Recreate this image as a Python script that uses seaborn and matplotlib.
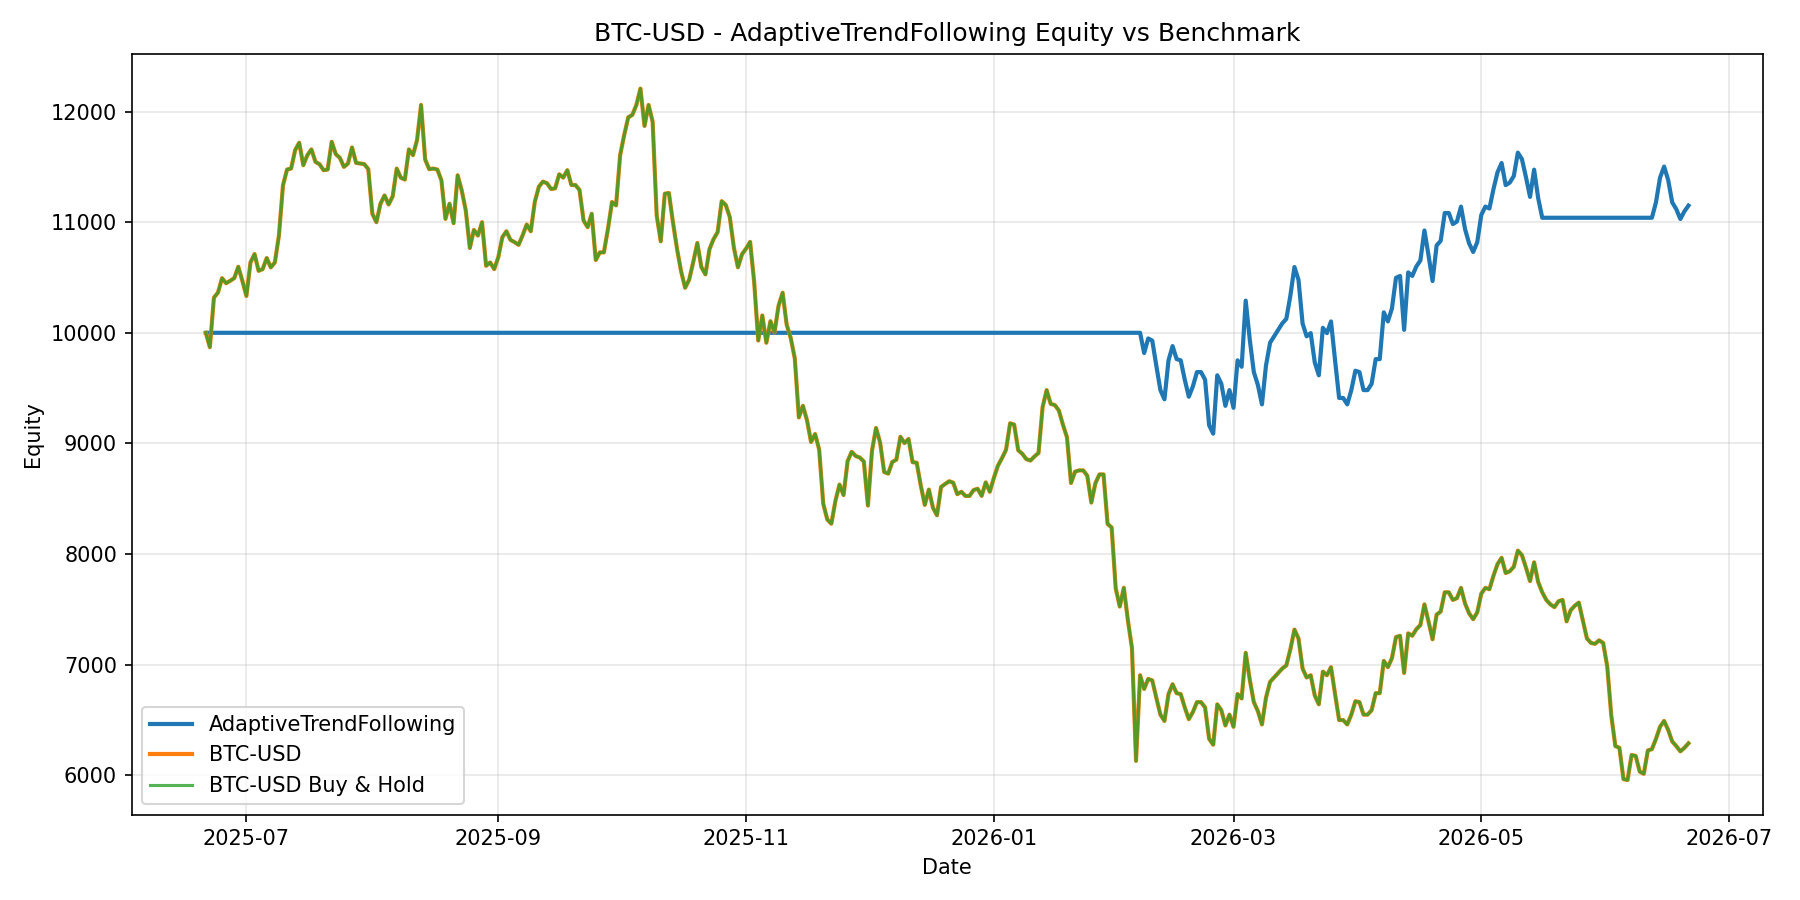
import numpy as np
import pandas as pd
import seaborn as sns
import matplotlib.pyplot as plt

start_date = "2025-06-21"

# BTC-USD buy & hold equity, daily
btc = [
    10000, 9870, 10318, 10364, 10494, 10448, 10470, 10494, 10597, 10470,
    10333, 10636, 10712, 10560, 10576, 10676, 10591, 10636, 10879, 11333,
    11476, 11485, 11652, 11718, 11515, 11606, 11658, 11545, 11524, 11470,
    11476, 11727, 11615, 11582, 11500, 11530, 11676, 11536, 11530, 11525,
    11480, 11076, 11000, 11167, 11242, 11160, 11233, 11485, 11403, 11385,
    11658, 11606, 11742, 12060, 11567, 11479, 11485, 11476, 11379, 11030,
    11167, 10991, 11424, 11288, 11106, 10767, 10930, 10879, 11000, 10606,
    10636, 10576, 10682, 10864, 10918, 10840, 10820, 10795, 10882, 10979,
    10918, 11185, 11321, 11367, 11352, 11300, 11306, 11433, 11403, 11470,
    11336, 11336, 11291, 11015, 10955, 11076, 10658, 10727, 10727, 10939,
    11182, 11152, 11606, 11788, 11948, 11970, 12060, 12208, 11870, 12060,
    11909, 11060, 10827, 11258, 11264, 11000, 10760, 10557, 10407, 10481,
    10640, 10812, 10594, 10528, 10756, 10847, 10910, 11190, 11156, 11045,
    10770, 10592, 10710, 10761, 10822, 10458, 9930, 10157, 9910, 10105,
    10003, 10245, 10362, 10073, 9953, 9768, 9235, 9340, 9210, 9013,
    9085, 8944, 8455, 8312, 8274, 8480, 8628, 8533, 8840, 8924,
    8886, 8872, 8836, 8438, 8934, 9140, 9008, 8741, 8727, 8832,
    8853, 9060, 9003, 9040, 8830, 8826, 8622, 8444, 8583, 8420,
    8350, 8606, 8633, 8658, 8645, 8541, 8563, 8525, 8525, 8578,
    8590, 8526, 8648, 8563, 8688, 8798, 8867, 8942, 9182, 9170,
    8938, 8906, 8858, 8845, 8882, 8914, 9328, 9482, 9357, 9347,
    9298, 9170, 9056, 8642, 8745, 8756, 8756, 8708, 8465, 8640,
    8720, 8720, 8272, 8240, 7690, 7525, 7695, 7400, 7150, 6130,
    6904, 6780, 6871, 6857, 6700, 6548, 6491, 6734, 6823, 6742,
    6734, 6613, 6507, 6572, 6661, 6661, 6613, 6329, 6276, 6641,
    6588, 6450, 6548, 6438, 6734, 6694, 7107, 6864, 6661, 6580,
    6459, 6702, 6844, 6884, 6925, 6965, 6993, 7139, 7317, 7236,
    6965, 6884, 6904, 6722, 6641, 6937, 6904, 6977, 6734, 6499,
    6499, 6459, 6548, 6669, 6661, 6548, 6548, 6588, 6742, 6742,
    7034, 6977, 7058, 7249, 7261, 6925, 7283, 7261, 7320, 7358,
    7545, 7391, 7229, 7452, 7480, 7654, 7654, 7585, 7601, 7694,
    7553, 7464, 7411, 7472, 7642, 7694, 7682, 7804, 7909, 7966,
    7828, 7844, 7885, 8031, 7990, 7877, 7755, 7925, 7747, 7654,
    7585, 7545, 7520, 7573, 7585, 7391, 7492, 7532, 7561, 7399,
    7237, 7196, 7188, 7220, 7196, 6985, 6540, 6264, 6248, 5965,
    5957, 6183, 6175, 6033, 6013, 6224, 6236, 6329, 6438, 6491,
    6410, 6305, 6264, 6216, 6248, 6289,
]

# strategy equity: flat in cash, then in position from early Feb
in_position_1 = [
    9817, 9949, 9929, 9702, 9482, 9399, 9751, 9880, 9762, 9751,
    9576, 9422, 9516, 9645, 9645, 9576, 9164, 9088, 9616, 9539,
    9340, 9482, 9322, 9751, 9693, 10291, 9939, 9645, 9528, 9353,
    9705, 9910, 9968, 10027, 10085, 10126, 10337, 10595, 10478, 10085,
    9968, 9997, 9733, 9616, 10045, 9997, 10103, 9751, 9411, 9411,
    9353, 9482, 9657, 9645, 9482, 9482, 9539, 9762, 9762, 10185,
    10103, 10220, 10497, 10514, 10027, 10546, 10514, 10599, 10654, 10925,
    10702, 10468, 10790, 10831, 11083, 11083, 10983, 11006, 11141, 10937,
    10808, 10731, 10819, 11066, 11141, 11124, 11300, 11452, 11535, 11335,
    11358, 11417, 11629, 11570, 11406, 11229, 11475, 11218,
]
in_position_2 = [11180, 11402, 11503, 11382, 11179, 11118, 11029, 11098, 11150]
strategy = [10000] * 231 + in_position_1 + [11040] * 28 + in_position_2

dates = pd.date_range(start_date, periods=len(btc), freq="D")
df = pd.DataFrame({"Date": dates, "strategy": strategy, "btc": btc})

fig, ax = plt.subplots(figsize=(12, 6), dpi=150)
sns.lineplot(data=df, x="Date", y="strategy", ax=ax, color="#1f77b4", linewidth=2,
             label="AdaptiveTrendFollowing")
sns.lineplot(data=df, x="Date", y="btc", ax=ax, color="#ff7f0e", linewidth=2,
             label="BTC-USD")
sns.lineplot(data=df, x="Date", y="btc", ax=ax, color="#2ca02c", linewidth=1.5,
             alpha=0.8, label="BTC-USD Buy & Hold")

ax.set_title("BTC-USD - AdaptiveTrendFollowing Equity vs Benchmark")
ax.set_xlabel("Date")
ax.set_ylabel("Equity")
ax.grid(True, alpha=0.3)
ax.legend(loc="lower left")

plt.tight_layout()
plt.savefig("out.png", dpi=150)
